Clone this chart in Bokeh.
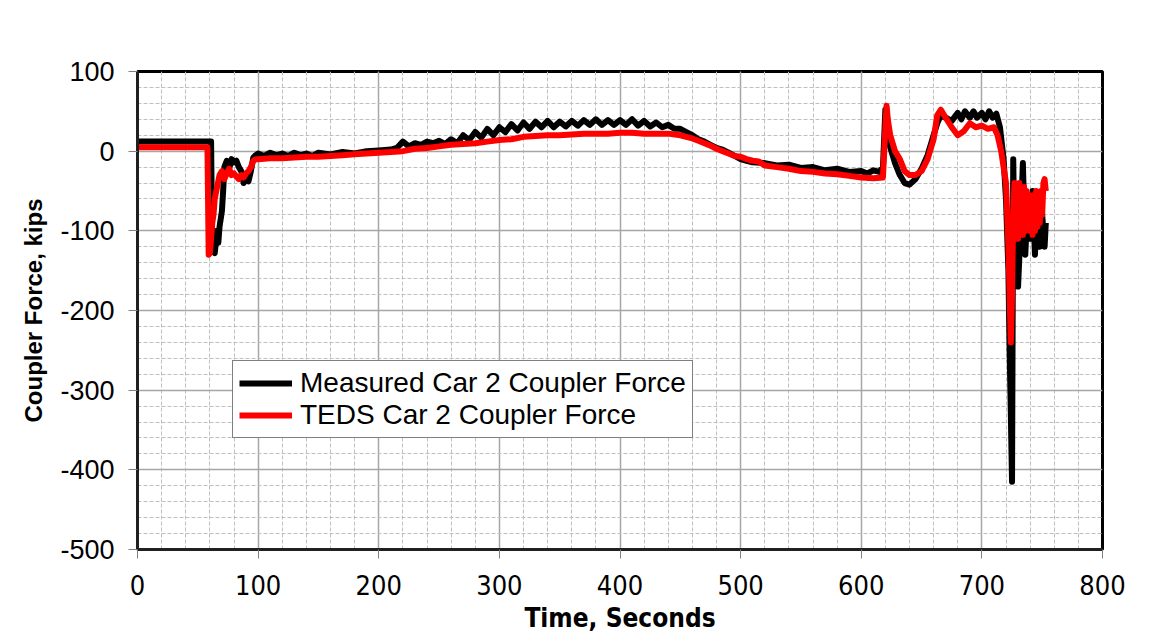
from bokeh.plotting import figure
from bokeh.models import SingleIntervalTicker, Legend, LegendItem, Range1d, PrintfTickFormatter
from bokeh.embed import file_html
from bokeh.resources import INLINE

# Measured Car 2 coupler force (black)
meas_t = [0, 60, 61, 62, 64, 66, 67, 68, 70, 71, 72, 74, 76, 78, 80, 82, 84, 86, 88, 90,
          92, 94, 96, 98, 100, 105, 110, 115, 120, 125, 130, 135, 140, 145, 150, 160, 170, 180, 190, 200,
          210, 215, 220, 225, 230, 235, 240, 245, 250, 255, 260, 265, 270, 275, 280, 285, 290, 295, 300, 305,
          310, 315, 320, 325, 330, 335, 340, 345, 350, 355, 360, 365, 370, 375, 380, 385, 390, 395, 400, 405,
          410, 415, 420, 425, 430, 435, 440, 445, 450, 455, 460, 465, 470, 475, 480, 485, 490, 495, 500, 505,
          510, 520, 530, 540, 550, 560, 570, 580, 590, 600, 605, 610, 615, 618, 620, 621, 623, 625, 628, 632,
          636, 640, 645, 650, 655, 660, 663, 666, 670, 675, 680, 683, 686, 690, 693, 696, 700, 703, 706, 709,
          712, 715, 718, 720, 722, 723, 724, 725, 726, 727, 728, 730, 732, 734, 736, 738, 740, 742, 744, 746,
          748, 750, 752, 753]
meas_v = [12, 12, 12, -125, -128, -100, -115, -95, -75, -50, -20, -12, -22, -10, -14, -12, -20, -25, -40, -35,
          -38, -25, -8, -5, -3, -6, -2, -5, -3, -6, -2, -5, -3, -6, -2, -4, -1, -3, 0, 1,
          2, 4, 12, 6, 10, 8, 12, 10, 13, 9, 15, 10, 20, 14, 24, 17, 28, 20, 30, 24,
          34, 26, 36, 28, 37, 30, 38, 30, 37, 31, 38, 32, 39, 33, 40, 33, 39, 33, 39, 33,
          40, 32, 38, 31, 36, 30, 33, 28, 28, 24, 20, 15, 12, 8, 4, 2, -2, -6, -10, -12,
          -14, -15, -18, -17, -21, -20, -24, -22, -26, -25, -28, -24, -26, -20, 52, 30, 10, 0, -15, -30,
          -40, -42, -35, -22, -5, 20, 35, 45, 42, 38, 48, 40, 50, 42, 50, 42, 48, 40, 50, 42,
          47, 30, -10, -60, -150, -250, -330, -415, -10, -120, -60, -170, -100, -15, -130, -60, -110, -50, -130, -60,
          -120, -80, -120, -90]

# TEDS Car 2 coupler force (red)
teds_t = [0, 58, 59, 60, 61, 62, 63, 64, 66, 68, 70, 72, 74, 76, 78, 80, 82, 84, 86, 88,
          90, 92, 94, 96, 98, 100, 110, 120, 130, 140, 150, 160, 170, 180, 190, 200, 210, 220, 230, 240,
          250, 260, 270, 280, 290, 300, 310, 320, 330, 340, 350, 360, 370, 380, 390, 400, 410, 420, 430, 440,
          450, 455, 460, 465, 470, 475, 480, 485, 490, 495, 500, 505, 510, 515, 520, 530, 540, 550, 560, 570,
          580, 590, 600, 610, 618, 620, 621, 622, 624, 626, 628, 632, 636, 640, 645, 650, 655, 660, 663, 666,
          670, 675, 680, 685, 690, 695, 700, 705, 710, 713, 716, 718, 720, 722, 724, 725, 726, 727, 728, 729,
          730, 731, 732, 733, 734, 735, 736, 737, 738, 739, 740, 741, 742, 743, 744, 745, 746, 747, 748, 749,
          750, 751, 752, 753]
teds_v = [5, 5, -130, -128, -110, -90, -80, -60, -45, -30, -25, -35, -28, -22, -30, -28, -32, -35, -30, -33,
          -28, -25, -20, -12, -10, -10, -9, -9, -8, -7, -7, -6, -5, -4, -3, -2, -1, 0, 3, 4,
          6, 8, 9, 10, 12, 14, 15, 18, 19, 20, 20, 21, 22, 22, 22, 23, 23, 22, 22, 22,
          20, 18, 16, 13, 10, 7, 3, 0, -3, -6, -7, -10, -12, -13, -18, -20, -22, -25, -26, -28,
          -29, -31, -33, -34, -33, 30, 57, 40, 20, 10, 0, -10, -25, -30, -30, -25, -10, 15, 45, 52,
          42, 30, 20, 25, 35, 30, 32, 28, 30, 20, 0, -20, -40, -120, -240, -180, -80, -40, -100, -50,
          -110, -40, -100, -50, -105, -45, -100, -50, -95, -55, -100, -60, -105, -55, -100, -50, -95, -60, -90, -50,
          -80, -40, -35, -50]

x_label = "Time, Seconds"
y_label = "Coupler Force, kips"
series_names = ["Measured Car 2 Coupler Force", "TEDS Car 2 Coupler Force"]

p = figure(width=1145, height=635, output_backend="svg", toolbar_location=None,
           x_range=Range1d(0, 800), y_range=Range1d(-500, 100),
           min_border_left=137, min_border_right=43, min_border_top=71, min_border_bottom=86)

p.background_fill_color = "white"
p.border_fill_color = "white"
p.outline_line_color = "black"
p.outline_line_width = 3

for ax in (p.xaxis[0], p.yaxis[0]):
    ax.ticker = SingleIntervalTicker(interval=100, num_minor_ticks=5)
    ax.formatter = PrintfTickFormatter(format="%d")
    ax.minor_tick_line_color = None
    ax.major_tick_in = 0
    ax.major_tick_out = 9
    ax.major_tick_line_color = "#808080"
    ax.axis_line_color = "#202020"
    ax.axis_line_width = 3

p.xaxis.major_label_text_font = "DejaVu Sans Condensed"
p.xaxis.major_label_text_font_size = "27px"
p.xaxis.major_label_text_color = "black"
p.xaxis.major_label_standoff = 16
p.yaxis.major_label_text_font = "Liberation Sans"
p.yaxis.major_label_text_font_size = "27px"
p.yaxis.major_label_text_color = "black"
p.yaxis.major_label_standoff = 14

p.xaxis.axis_label = x_label
p.xaxis.axis_label_text_font = "DejaVu Sans Condensed"
p.xaxis.axis_label_text_font_style = "bold"
p.xaxis.axis_label_text_font_size = "26px"
p.xaxis.axis_label_standoff = 5
p.xaxis.axis_label_text_color = "black"
p.yaxis.axis_label = y_label
p.yaxis.axis_label_text_font = "Liberation Sans"
p.yaxis.axis_label_text_font_style = "bold"
p.yaxis.axis_label_text_font_size = "24px"
p.yaxis.axis_label_standoff = 10
p.yaxis.axis_label_text_color = "black"

for g in (p.xgrid[0], p.ygrid[0]):
    g.grid_line_color = "#a6a6a6"
    g.grid_line_width = 1.5
    g.minor_grid_line_color = "#bfbfbf"
    g.minor_grid_line_dash = "4 2"
    g.minor_grid_line_width = 1

r1 = p.line(meas_t, meas_v, line_color="black", line_width=6, line_join="round")
r2 = p.line(teds_t, teds_v, line_color="#ff0000", line_width=6, line_join="round")

legend = Legend(items=[LegendItem(label=series_names[0], renderers=[r1]),
                       LegendItem(label=series_names[1], renderers=[r2])],
                location=(95, 111))
legend.border_line_color = "black"
legend.border_line_width = 1.5
legend.background_fill_alpha = 1
legend.label_text_font = "Liberation Sans"
legend.label_text_font_size = "28px"
legend.label_text_color = "black"
legend.glyph_width = 53
legend.label_standoff = 8
legend.padding = 6
legend.spacing = 0
legend.label_height = 30
legend.glyph_height = 30
legend.margin = 0
p.add_layout(legend, "center")

open("out.html", "w").write(file_html(p, INLINE))
